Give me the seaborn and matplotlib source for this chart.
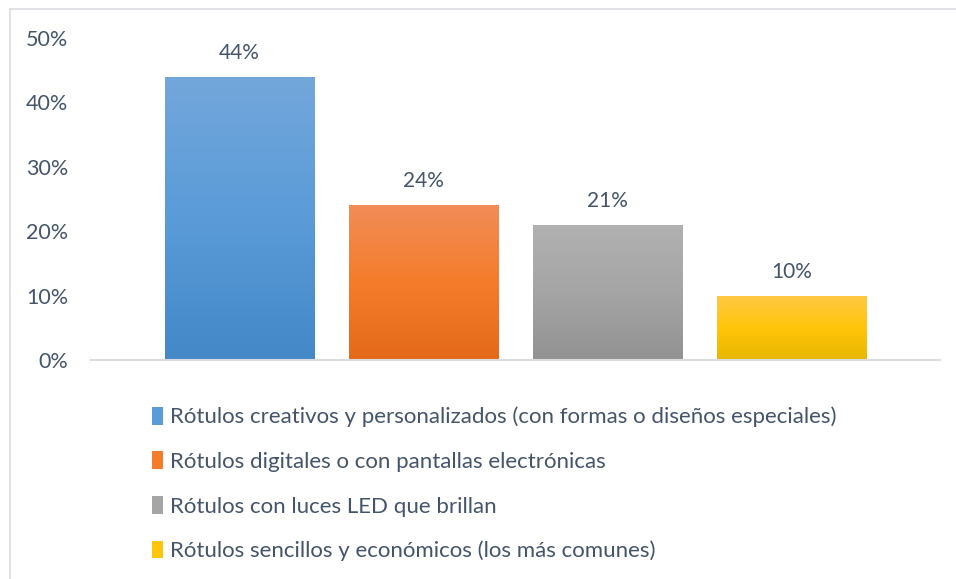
import numpy as np
import matplotlib
matplotlib.use("Agg")
import matplotlib.pyplot as plt
from matplotlib.patches import Patch, Rectangle
from matplotlib.colors import LinearSegmentedColormap
from matplotlib.ticker import PercentFormatter
import seaborn as sns

# Survey results: preferred type of sign
categorias = [
    "Rótulos creativos y personalizados (con formas o diseños especiales)",
    "Rótulos digitales o con pantallas electrónicas",
    "Rótulos con luces LED que brillan",
    "Rótulos sencillos y económicos (los más comunes)",
]
valores = [0.44, 0.24, 0.21, 0.10]
etiquetas = ["44%", "24%", "21%", "10%"]

# Gradient stops per bar (top, middle, bottom)
gradientes = [
    ["#73A7DB", "#5A9BD8", "#4488C8"],
    ["#F18D58", "#F47C2A", "#E46A19"],
    ["#B1B1B1", "#A5A5A5", "#929292"],
    ["#FFC845", "#FFC50A", "#E8B700"],
]
colores = [g[1] for g in gradientes]

texto = "#44546A"

sns.set_theme(style="white")
plt.rcParams["font.family"] = ["Lato", "DejaVu Sans"]

fig = plt.figure(figsize=(9.56, 5.79), dpi=100)
W, H = 956, 579

# chart-area outline
fig.patches.append(Rectangle((10 / W, -0.1), 1.2, 1 - 9.5 / H + 0.1,
                             transform=fig.transFigure, fill=False,
                             edgecolor="#D9DCE1", linewidth=1.2, zorder=0))

ax = fig.add_axes([91 / W, 1 - 360 / H, (940 - 91) / W, (360 - 38) / H])

sns.barplot(x=categorias, y=valores, hue=categorias, palette=colores,
            width=0.815, dodge=False, legend=False, ax=ax, saturation=1)

# vertical gradient inside every bar
for patch, stops in zip(ax.patches, gradientes):
    x0, y0 = patch.get_x(), patch.get_y()
    w, h = patch.get_width(), patch.get_height()
    cmap = LinearSegmentedColormap.from_list("g", stops[::-1])
    grad = np.linspace(0, 1, 256).reshape(-1, 1)
    im = ax.imshow(grad, cmap=cmap, extent=[x0, x0 + w, y0, y0 + h],
                   origin="lower", aspect="auto", zorder=patch.get_zorder() + 0.1)
    im.set_clip_path(patch)

for patch, lab in zip(ax.patches, etiquetas):
    ax.annotate(lab, (patch.get_x() + patch.get_width() / 2, patch.get_height()),
                xytext=(0, 13), textcoords="offset points", ha="center",
                va="baseline", fontsize=15, color=texto)

ax.set_xlim(-0.807, 3.807)
ax.set_ylim(0, 0.5)
ax.set_yticks(np.arange(0, 0.51, 0.1))
ax.yaxis.set_major_formatter(PercentFormatter(1.0, decimals=0))
ax.set_xticks([])
ax.tick_params(axis="y", length=0, pad=16.5, labelsize=15.5, labelcolor=texto)
for s in ["top", "right", "left"]:
    ax.spines[s].set_visible(False)
ax.spines["bottom"].set_color("#D9DCE1")
ax.spines["bottom"].set_linewidth(1.5)
ax.set_facecolor("none")

handles = [Patch(facecolor=c, edgecolor="none") for c in colores]
fig.legend(handles, categorias, loc="upper left",
           bbox_to_anchor=(143 / W, 1 - 398 / H), frameon=False,
           fontsize=16, labelcolor=texto, handlelength=0.5, handleheight=0.85,
           handletextpad=0.3, labelspacing=1.08, borderaxespad=0)

fig.savefig("out.png", dpi=100, facecolor="white")
